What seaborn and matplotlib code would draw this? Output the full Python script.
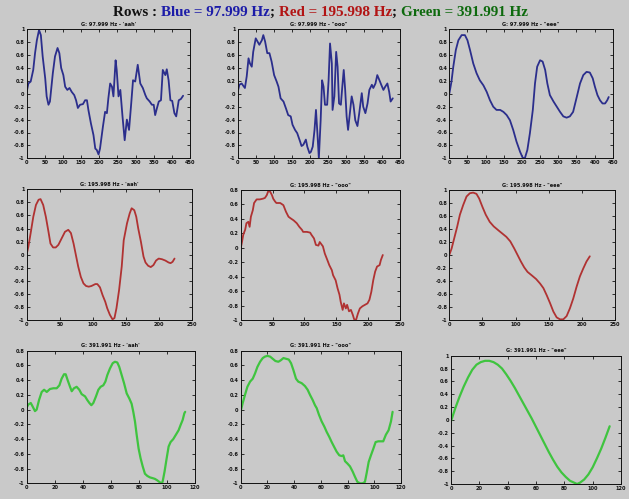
import matplotlib
matplotlib.use("Agg")
import matplotlib.pyplot as plt
import seaborn as sns
import pandas as pd
from matplotlib.ticker import MultipleLocator, FuncFormatter

# ---------------- data ----------------
blue_aah_x = [0, 4.6, 11, 18, 23, 28, 34, 39, 44, 51, 55, 60, 64, 72, 78, 85, 90, 95, 101, 106, 112, 118,
              124, 131, 136, 141, 147, 155, 161, 166, 170, 177, 184, 189, 193, 198, 202, 210, 216, 221, 225,
              230, 235, 239, 245, 248, 253, 258, 264, 270, 276, 282, 288, 293, 299, 306, 313, 320, 327, 331,
              339, 345, 350, 354, 359, 364, 370, 375, 382, 386, 391, 396, 401, 407, 412, 419, 425, 431]
blue_aah_y = [0.03, 0.16, 0.19, 0.37, 0.63, 0.83, 0.99, 0.91, 0.58, 0.24, -0.04, -0.17, -0.12, 0.32, 0.58,
              0.71, 0.63, 0.40, 0.29, 0.11, 0.06, 0.09, 0.03, -0.02, -0.10, -0.22, -0.17, -0.16, -0.10, -0.10,
              -0.25, -0.46, -0.64, -0.85, -0.87, -0.94, -0.85, -0.51, -0.28, -0.30, -0.07, 0.16, 0.11, -0.04,
              0.52, 0.37, -0.04, 0.06, -0.35, -0.72, -0.40, -0.56, -0.15, 0.21, 0.19, 0.45, 0.16, 0.09, -0.02,
              -0.07, -0.12, -0.17, -0.17, -0.33, -0.22, -0.12, -0.10, 0.37, 0.29, 0.38, 0.21, -0.10, -0.11,
              -0.30, -0.35, -0.10, -0.08, -0.03]

blue_ooo_x = [0, 4.6, 11, 16, 20, 25, 30, 34, 39, 43, 50, 55, 60, 67, 71, 76, 82, 88, 94, 101, 108, 113,
              119, 127, 134, 140, 147, 152, 159, 165, 173, 177, 182, 189, 193, 199, 203, 208, 213, 217, 221,
              225, 230, 234, 238, 242, 248, 252, 256, 261, 263, 268, 273, 277, 281, 286, 290, 294, 298, 302,
              306, 311, 316, 321, 326, 332, 337, 344, 348, 354, 360, 365, 372, 376, 382, 387, 393, 398, 404,
              409, 415, 420, 424, 430]
blue_ooo_y = [0.03, 0.14, 0.16, 0.12, 0.09, 0.27, 0.55, 0.47, 0.42, 0.65, 0.86, 0.81, 0.76, 0.83, 0.91,
              0.81, 0.63, 0.63, 0.50, 0.29, 0.19, 0.11, -0.07, -0.12, -0.23, -0.33, -0.35, -0.48, -0.56, -0.61,
              -0.74, -0.81, -0.79, -0.71, -0.82, -0.92, -0.90, -0.82, -0.56, -0.25, -0.61, -1.0, -0.41, 0.21,
              0.11, -0.17, -0.17, 0.21, 0.78, 0.47, -0.25, -0.04, 0.65, 0.42, -0.15, -0.17, 0.11, 0.37, 0.06,
              -0.35, -0.56, -0.30, -0.04, -0.17, -0.41, -0.50, -0.30, 0.01, -0.20, -0.30, -0.15, 0.06, 0.14,
              0.09, 0.16, 0.29, 0.21, 0.14, 0.06, 0.11, 0.16, 0.03, -0.12, -0.07]

blue_eee_x = [0, 6, 11, 18, 25, 34, 43, 50, 57, 66, 75, 84, 94, 103, 112, 121, 130, 140, 149, 158, 167,
              176, 185, 195, 202, 208, 215, 222, 230, 236, 242, 250, 257, 264, 270, 277, 287, 296, 305, 314,
              323, 332, 341, 351, 360, 369, 378, 387, 395, 401, 408, 415, 422, 429, 435, 439]
blue_eee_y = [0.0, 0.19, 0.42, 0.68, 0.83, 0.91, 0.91, 0.83, 0.68, 0.47, 0.32, 0.21, 0.13, 0.03, -0.10,
              -0.20, -0.25, -0.25, -0.28, -0.33, -0.41, -0.56, -0.74, -0.90, -0.99, -1.0, -0.87, -0.61, -0.25,
              0.16, 0.42, 0.52, 0.50, 0.37, 0.16, -0.02, -0.12, -0.20, -0.28, -0.35, -0.37, -0.35, -0.28,
              -0.05, 0.16, 0.29, 0.34, 0.33, 0.24, 0.11, -0.02, -0.10, -0.15, -0.15, -0.10, -0.05]

red_aah_x = [0, 2.5, 6, 10, 14, 18, 21, 25, 29, 33, 36, 40, 44, 48, 53, 58, 63, 67, 71, 75, 78, 82, 86,
             90, 94, 98, 104, 107, 111, 115, 119, 122, 126, 130, 133, 136, 140, 144, 147, 152, 156, 159,
             163, 166, 169, 173, 177, 180, 184, 188, 192, 196, 200, 205, 210, 215, 218, 221, 224]
red_aah_y = [0.01, 0.12, 0.33, 0.58, 0.76, 0.84, 0.85, 0.76, 0.58, 0.35, 0.17, 0.11, 0.11, 0.15, 0.25,
             0.35, 0.38, 0.33, 0.17, -0.03, -0.18, -0.34, -0.44, -0.48, -0.49, -0.48, -0.45, -0.45, -0.50,
             -0.62, -0.72, -0.82, -0.92, -0.99, -0.97, -0.82, -0.54, -0.18, 0.22, 0.48, 0.63, 0.71, 0.68,
             0.58, 0.40, 0.20, -0.03, -0.12, -0.17, -0.19, -0.16, -0.09, -0.06, -0.07, -0.09, -0.12, -0.13,
             -0.11, -0.06]

red_ooo_x = [0, 2, 4, 7, 9, 12, 14, 16, 19, 21, 25, 30, 35, 38, 41, 43, 46, 49, 51, 54, 56, 62, 67, 71,
             75, 78, 83, 88, 92, 96, 98, 104, 109, 111, 115, 118, 122, 124, 129, 132, 136, 139, 143, 145,
             149, 152, 155, 157, 160, 162, 165, 167, 170, 173, 176, 178, 181, 184, 187, 191, 195, 199, 202,
             205, 208, 211, 214, 218, 220, 223]
red_ooo_y = [-0.01, 0.08, 0.18, 0.25, 0.34, 0.36, 0.29, 0.43, 0.52, 0.62, 0.67, 0.67, 0.68, 0.69, 0.73,
             0.78, 0.78, 0.73, 0.68, 0.64, 0.62, 0.62, 0.59, 0.50, 0.43, 0.41, 0.38, 0.34, 0.29, 0.25, 0.22,
             0.22, 0.21, 0.18, 0.13, 0.04, 0.03, 0.08, 0.02, -0.08, -0.17, -0.24, -0.31, -0.38, -0.45, -0.56,
             -0.65, -0.75, -0.86, -0.77, -0.84, -0.79, -0.88, -0.86, -0.93, -0.99, -1.0, -0.91, -0.84, -0.81,
             -0.79, -0.77, -0.72, -0.61, -0.45, -0.33, -0.26, -0.24, -0.17, -0.10]

red_eee_x = [0, 3.5, 7.5, 12, 16, 21, 26, 31, 36, 41, 45, 50, 55, 61, 67, 74, 80, 86, 92, 98, 103, 108,
             113, 118, 124, 131, 137, 142, 147, 152, 157, 162, 167, 172, 177, 182, 187, 192, 197, 202, 207,
             212]
red_eee_y = [0.0, 0.10, 0.26, 0.44, 0.62, 0.77, 0.90, 0.95, 0.96, 0.94, 0.87, 0.74, 0.62, 0.51, 0.44,
             0.38, 0.33, 0.28, 0.21, 0.10, 0.0, -0.10, -0.19, -0.26, -0.31, -0.37, -0.44, -0.51, -0.62,
             -0.74, -0.87, -0.96, -0.99, -0.99, -0.94, -0.82, -0.67, -0.49, -0.33, -0.21, -0.10, -0.02]

green_aah_x = [0, 1.2, 2.9, 4.3, 5.9, 7.1, 8.8, 10.7, 12.4, 14.3, 16.6, 19, 21.4, 23.3, 24.9, 26.6, 27.8,
               29.2, 30.9, 32.1, 33.7, 35.6, 37.5, 39.2, 41.6, 43.2, 44.7, 46.1, 47.5, 49.4, 51.1, 52.7,
               54.6, 56.1, 57.5, 59.4, 61.3, 62.9, 64.6, 66, 67.7, 69.4, 71.3, 73.2, 74.8, 76, 77.2, 78.4,
               79.8, 81.2, 82.7, 84.3, 86, 87.9, 89.8, 91.4, 93.1, 94.5, 96, 96.9, 98.3, 99.8, 101.2, 102.6,
               104.5, 106.4, 108.3, 109.7, 111.2, 112.4, 113]
green_aah_y = [0.03, 0.07, 0.09, 0.04, -0.02, 0.0, 0.13, 0.24, 0.27, 0.24, 0.28, 0.29, 0.29, 0.33, 0.42,
               0.48, 0.48, 0.40, 0.31, 0.25, 0.29, 0.31, 0.27, 0.21, 0.18, 0.13, 0.09, 0.06, 0.09, 0.18,
               0.27, 0.31, 0.33, 0.38, 0.47, 0.56, 0.63, 0.65, 0.64, 0.58, 0.47, 0.36, 0.22, 0.15, 0.08,
               -0.03, -0.16, -0.34, -0.53, -0.66, -0.77, -0.87, -0.90, -0.92, -0.93, -0.94, -0.96, -0.98,
               -1.0, -0.98, -0.84, -0.66, -0.50, -0.44, -0.40, -0.34, -0.28, -0.21, -0.14, -0.05, -0.03]

green_ooo_x = [0, 1.5, 3.2, 5, 7, 9, 10.7, 12.5, 14.5, 16.5, 18.2, 20, 22, 24, 26, 28.2, 30, 32, 34, 36,
               37.7, 39.4, 41.4, 43.1, 45.6, 48.1, 50.1, 51.9, 53.9, 55.6, 56.9, 58.6, 60.6, 62.6, 64.3,
               66.3, 68.1, 69.8, 71.8, 73.8, 75.6, 76.8, 78.1, 79.8, 81.8, 83.8, 85.5, 87.3, 89.3, 91.3, 93,
               94.3, 95.8, 97.5, 99.3, 101, 103, 105, 106.7, 108.7, 110.7, 112.5, 113.7]
green_ooo_y = [-0.02, 0.09, 0.20, 0.31, 0.38, 0.42, 0.49, 0.58, 0.65, 0.70, 0.72, 0.73, 0.72, 0.69, 0.66,
               0.65, 0.67, 0.70, 0.69, 0.68, 0.63, 0.54, 0.42, 0.38, 0.36, 0.32, 0.27, 0.20, 0.13, 0.06,
               0.02, -0.07, -0.16, -0.23, -0.30, -0.37, -0.44, -0.50, -0.57, -0.62, -0.63, -0.62, -0.70,
               -0.73, -0.77, -0.84, -0.91, -0.98, -1.0, -1.0, -0.98, -0.86, -0.71, -0.62, -0.53, -0.44, -0.43,
               -0.43, -0.43, -0.34, -0.28, -0.16, -0.03]

green_eee_x = [0, 3, 6, 9, 12, 15, 18, 21, 24, 27, 30, 33, 36, 39, 42, 45, 48, 51, 54, 57, 60, 63, 66, 69,
               72, 75, 78, 81, 84, 87, 89, 91, 94, 97, 100, 103, 106, 109, 112]
green_eee_y = [-0.02, 0.18, 0.36, 0.52, 0.66, 0.78, 0.86, 0.90, 0.92, 0.92, 0.90, 0.86, 0.80, 0.71, 0.61,
               0.50, 0.38, 0.26, 0.14, 0.02, -0.11, -0.24, -0.37, -0.50, -0.62, -0.73, -0.82, -0.89, -0.95,
               -0.98, -1.0, -0.98, -0.93, -0.85, -0.74, -0.60, -0.45, -0.28, -0.10]

freqs = ["97.999", "195.998", "391.991"]
vowels = ["'aah'", "\"ooo\"", "\"eee\""]
title_parts = ["Rows : ", "Blue = 97.999 Hz", "; ", "Red = 195.998 Hz", "; ", "Green = 391.991 Hz"]

# ---------------- styling ----------------
BG = "#c9c9c9"
LINE_COLORS = ["#2b2e8c", "#b03232", "#3fc43f"]
TITLE_COLORS = ["#111111", "#1c1ca8", "#111111", "#b21414", "#111111", "#0e6a0e"]

sns.set_theme(style="ticks")
plt.rcParams["font.family"] = ["DejaVu Sans"]

fig = plt.figure(figsize=(6.29, 4.99), dpi=100, facecolor=BG)
W, H = 629.0, 499.0

# axes boxes in pixels: (left, right, top, bottom)
boxes = [
    [(26.7, 190, 29.3, 158.3), (237.7, 400, 29.3, 158.3), (449.3, 612.7, 29.3, 158.3)],
    [(26.7, 191.7, 189.3, 320), (240.7, 400, 190, 320), (449.3, 615, 190, 320)],
    [(26.7, 195, 350.7, 483.3), (240.7, 401, 350.7, 483.3), (451, 621, 355.7, 484)],
]
series = [
    [(blue_aah_x, blue_aah_y), (blue_ooo_x, blue_ooo_y), (blue_eee_x, blue_eee_y)],
    [(red_aah_x, red_aah_y), (red_ooo_x, red_ooo_y), (red_eee_x, red_eee_y)],
    [(green_aah_x, green_aah_y), (green_ooo_x, green_ooo_y), (green_eee_x, green_eee_y)],
]
xlims = [(0, 450, 50), (0, 250, 50), (0, 120, 20)]
ylims = [[(-1, 1), (-1, 1), (-1, 1)],
         [(-1, 1), (-1, 0.8), (-1, 1)],
         [(-1, 0.8), (-1, 0.8), (-1, 1)]]
lws = [1.3, 1.3, 1.6]

fmt = FuncFormatter(lambda v, p: ("%g" % round(v, 3)).replace("-0", "-0") if abs(v) > 1e-9 else "0")

for r in range(3):
    for c in range(3):
        L, R, T, B = boxes[r][c]
        ax = fig.add_axes([L / W, 1 - B / H, (R - L) / W, (B - T) / H])
        ax.set_facecolor(BG)
        xs, ys = series[r][c]
        df = pd.DataFrame({"x": xs, "y": ys})
        sns.lineplot(data=df, x="x", y="y", ax=ax, sort=False, estimator=None,
                     color=LINE_COLORS[r], linewidth=lws[r])
        x0, x1, xs_step = xlims[r]
        ax.set_xlim(x0, x1)
        ax.set_ylim(*ylims[r][c])
        ax.xaxis.set_major_locator(MultipleLocator(xs_step))
        ax.yaxis.set_major_locator(MultipleLocator(0.2))
        ax.yaxis.set_major_formatter(fmt)
        ax.xaxis.set_major_formatter(FuncFormatter(lambda v, p: "%g" % v))
        ax.set_xlabel("")
        ax.set_ylabel("")
        ax.tick_params(axis="both", which="major", direction="in", length=2, width=0.6,
                       labelsize=3.6, pad=1.5, top=True, right=True, colors="#111111")
        for lab in ax.get_xticklabels() + ax.get_yticklabels():
            lab.set_fontweight("bold")
        for sp in ax.spines.values():
            sp.set_color("#111111")
            sp.set_linewidth(0.7)
        ax.set_title("G: %s Hz - %s" % (freqs[r], vowels[c]), fontsize=3.6,
                     fontweight="bold", pad=2.5, color="#111111")

# ---------------- multi-coloured suptitle ----------------
fig.canvas.draw()
renderer = fig.canvas.get_renderer()
target_width = 414.0
fs = 12.0
def measure(fs):
    total = 0.0
    for s in title_parts:
        t = fig.text(0, 0, s, fontsize=fs, fontweight="bold", family=["Liberation Serif"])
        total += t.get_window_extent(renderer).width
        t.remove()
    return total
w = measure(fs)
fs = fs * target_width / w
widths = []
for s in title_parts:
    t = fig.text(0, 0, s, fontsize=fs, fontweight="bold", family=["Liberation Serif"])
    widths.append(t.get_window_extent(renderer).width)
    t.remove()
x = (W - sum(widths)) / 2.0 + 6
for s, col, wdt in zip(title_parts, TITLE_COLORS, widths):
    fig.text(x / W, 1 - 12.5 / H, s, fontsize=fs, fontweight="bold", family=["Liberation Serif"],
             color=col, ha="left", va="center")
    x += wdt

fig.savefig("out.png", dpi=100, facecolor=BG)
